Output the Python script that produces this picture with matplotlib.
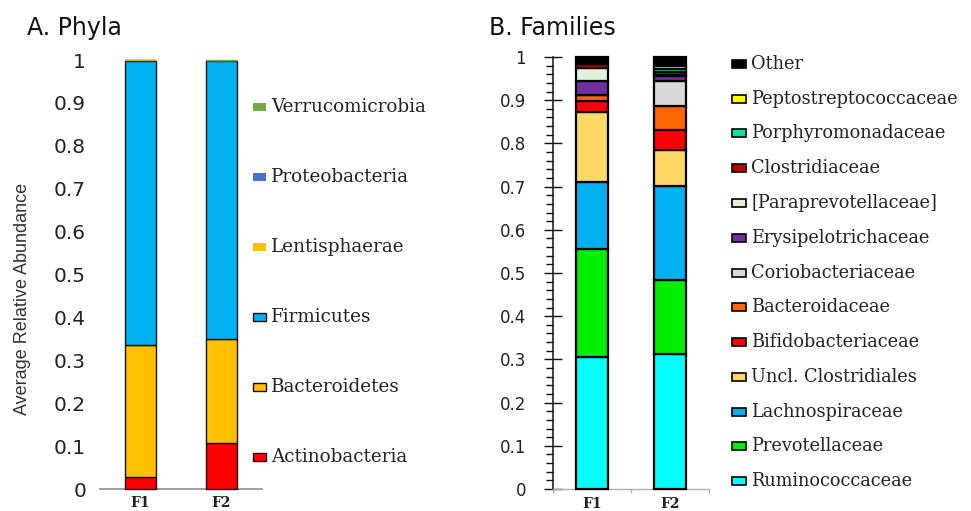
import matplotlib
matplotlib.use('Agg')
import matplotlib.pyplot as plt
from matplotlib.patches import Rectangle
from matplotlib.ticker import MultipleLocator, FixedLocator, FuncFormatter
import numpy as np

W, H = 971, 511

samples = ['F1', 'F2']

# ---- Panel A: phyla (bottom to top) ----
phyla = ['Actinobacteria', 'Bacteroidetes', 'Firmicutes',
         'Lentisphaerae', 'Proteobacteria', 'Verrucomicrobia']
phyla_F1 = [0.028, 0.308, 0.662, 0.002, 0.000, 0.000]
phyla_F2 = [0.107, 0.243, 0.647, 0.000, 0.0005, 0.0025]
phyla_colors = ['#FF0000', '#FFC000', '#00B0F0', '#FFC000', '#4472C4', '#70AD47']
phyla_edged = [True, True, True, False, False, False]

# ---- Panel B: families (bottom to top) ----
families = ['Ruminococcaceae', 'Prevotellaceae', 'Lachnospiraceae',
            'Uncl. Clostridiales', 'Bifidobacteriaceae', 'Bacteroidaceae',
            'Coriobacteriaceae', 'Erysipelotrichaceae', '[Paraprevotellaceae]',
            'Clostridiaceae', 'Porphyromonadaceae', 'Peptostreptococcaceae', 'Other']
fam_F1 = [0.305, 0.251, 0.155, 0.162, 0.024, 0.015, 0.001, 0.031, 0.031,
          0.008, 0.000, 0.000, 0.017]
fam_F2 = [0.313, 0.170, 0.219, 0.083, 0.046, 0.056, 0.058, 0.010, 0.004,
          0.007, 0.007, 0.006, 0.021]
fam_colors = ['#00FFFF', '#00EE00', '#00B0F0', '#FFD966', '#FF0000', '#FF6600',
              '#D9D9D9', '#7030A0', '#E2EFDA', '#C00000', '#00E699', '#FFFF00',
              '#000000']

yticks = [0, 0.1, 0.2, 0.3, 0.4, 0.5, 0.6, 0.7, 0.8, 0.9, 1.0]

def fmt(v, pos=None):
    s = ('%.1f' % v)
    if s.endswith('.0'):
        s = s[:-2]
    return s

def fx(x):
    return x / W

def fy(y):
    return 1 - y / H

fig = plt.figure(figsize=(W / 100, H / 100), dpi=100)
fig.patch.set_facecolor('white')

serif = ['DejaVu Serif']
txtc = '#222222'

# ================= Panel A =================
ax1 = fig.add_axes([fx(100), fy(489), 162 / W, 429 / H])
x = np.arange(len(samples))
bottom = np.zeros(len(samples))
for name, v1, v2, col, edged in zip(phyla, phyla_F1, phyla_F2, phyla_colors, phyla_edged):
    vals = np.array([v1, v2])
    ax1.bar(x, vals, width=0.395, bottom=bottom, color=col,
            edgecolor='#111111' if edged else col, linewidth=1.0 if edged else 0.3,
            clip_on=False, zorder=3)
    bottom += vals
ax1.set_xlim(-0.5, 1.5)
ax1.set_ylim(0, 1)
for s in ['top', 'right', 'left']:
    ax1.spines[s].set_visible(False)
ax1.spines['bottom'].set_color('#8c8c8c')
ax1.spines['bottom'].set_linewidth(1.2)
ax1.set_yticks(yticks)
ax1.yaxis.set_major_formatter(FuncFormatter(fmt))
ax1.tick_params(axis='y', length=0, pad=10, labelsize=14.5, labelcolor=txtc)
ax1.set_xticks(x)
ax1.set_xticklabels(samples, fontfamily=serif, fontweight='bold', fontsize=10, color=txtc)
ax1.tick_params(axis='x', length=0, pad=5)

fig.text(fx(27), fy(28), 'A. Phyla', fontsize=17, ha='left', va='center', color='#111111')
fig.text(fx(23), fy(299), 'Average Relative Abundance', rotation=90,
         ha='center', va='center', fontsize=13, color='#333333',
         family=['Liberation Sans', 'DejaVu Sans'])

# legend A (top entry = last series)
for i, idx in enumerate(range(len(phyla) - 1, -1, -1)):
    yc = 107 + 70 * i
    rect = Rectangle((fx(253), fy(yc + 4)), 13 / W, 8 / H, transform=fig.transFigure,
                     facecolor=phyla_colors[idx],
                     edgecolor='#111111' if phyla_edged[idx] else phyla_colors[idx],
                     linewidth=1.0 if phyla_edged[idx] else 0)
    fig.add_artist(rect)
    fig.text(fx(271), fy(yc), phyla[idx], fontsize=13.2, family=serif,
             ha='left', va='center', color=txtc)

# ================= Panel B =================
ax2 = fig.add_axes([fx(553), fy(489), 156 / W, 432 / H])
bottom = np.zeros(len(samples))
for name, v1, v2, col in zip(families, fam_F1, fam_F2, fam_colors):
    vals = np.array([v1, v2])
    ax2.bar(x, vals, width=0.40, bottom=bottom, color=col, edgecolor='#000000',
            linewidth=1.6, clip_on=False, zorder=3)
    bottom += vals
ax2.set_xlim(-0.5, 1.5)
ax2.set_ylim(0, 1)
for s in ['top', 'right']:
    ax2.spines[s].set_visible(False)
ax2.spines['left'].set_color('#111111')
ax2.spines['left'].set_linewidth(1.1)
ax2.spines['bottom'].set_color('#b0b0b0')
ax2.spines['bottom'].set_linewidth(1.0)
ax2.set_yticks(yticks)
ax2.yaxis.set_minor_locator(MultipleLocator(0.02))
ax2.yaxis.set_major_formatter(FuncFormatter(fmt))
ax2.tick_params(axis='y', which='major', direction='inout', length=13, width=1.0,
                color='#111111', pad=13, labelsize=12, labelcolor=txtc)
ax2.tick_params(axis='y', which='minor', direction='out', length=5, width=1.0,
                color='#111111')
ax2.set_xticks(x)
ax2.set_xticklabels(samples, fontfamily=serif, fontweight='bold', fontsize=10, color=txtc)
ax2.xaxis.set_minor_locator(FixedLocator([-0.5, 0.5, 1.5]))
ax2.tick_params(axis='x', which='major', length=0, pad=6)
ax2.tick_params(axis='x', which='minor', direction='out', length=2.7, width=1.0,
                color='#b0b0b0')

fig.text(fx(489), fy(28), 'B. Families', fontsize=17, ha='left', va='center', color='#111111')

# legend B
for i, idx in enumerate(range(len(families) - 1, -1, -1)):
    yc = 64 + 34.75 * i
    rect = Rectangle((fx(732), fy(yc + 4)), 14 / W, 8 / H, transform=fig.transFigure,
                     facecolor=fam_colors[idx], edgecolor='#000000', linewidth=1.2)
    fig.add_artist(rect)
    fig.text(fx(751), fy(yc), families[idx], fontsize=12.8, family=serif,
             ha='left', va='center', color=txtc)

fig.savefig('out.png', dpi=100, facecolor='white')
